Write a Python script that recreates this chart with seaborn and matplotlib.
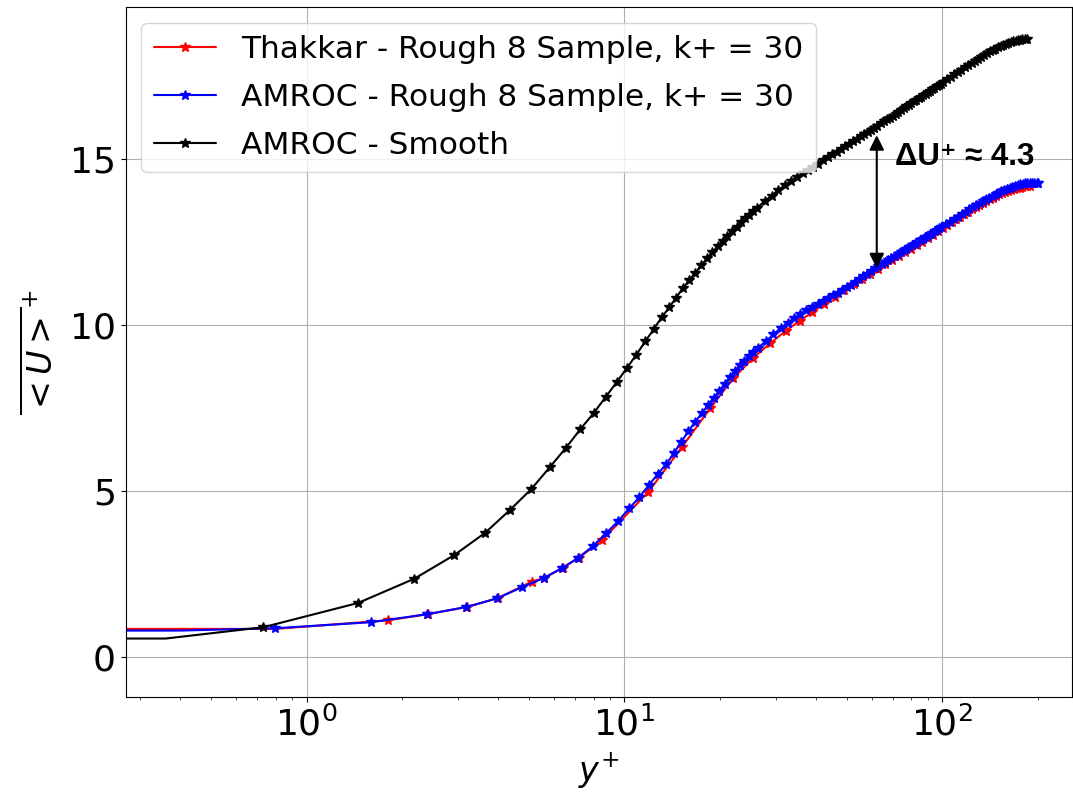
import numpy as np
import pandas as pd
import matplotlib
matplotlib.use("Agg")
import matplotlib.pyplot as plt
from matplotlib.lines import Line2D
import seaborn as sns

# ---------------- data ----------------
labels = ["Thakkar - Rough 8 Sample, k+ = 30",
          "AMROC - Rough 8 Sample, k+ = 30",
          "AMROC - Smooth"]

smooth_yplus = [0.0, 0.36, 0.73, 1.45, 2.18, 2.91, 3.64, 4.36, 5.09, 5.82, 6.54,
                7.27, 8.00, 8.72, 9.45, 10.18, 10.90, 11.63, 12.36, 13.09, 13.82,
                14.54, 15.27, 16.00, 16.72, 17.45, 18.18, 18.90, 19.63, 20.36,
                21.08, 21.81, 22.54, 23.26, 24.0, 24.7, 25.4, 26.2, 27.6, 29.1,
                30.5, 32.0, 33.4, 34.9, 36.4, 37.8, 39.3, 40.7, 42.2, 43.6, 45.1,
                46.5, 48.0, 49.4, 50.9, 52.3, 53.8, 55.3, 56.7, 58.2, 59.6, 61.1,
                62.5, 64.0, 65.4, 66.9, 68.3, 69.8, 71.3, 72.7, 74.2, 75.6, 77.1,
                78.5, 80.0, 81.4, 82.9, 84.3, 85.8, 87.2, 88.7, 90.1, 91.6, 93.0,
                94.5, 95.9, 97.4, 98.9, 100.3, 103.2, 106.2, 109.1, 112.0, 114.9,
                117.8, 120.7, 123.6, 126.5, 129.4, 132.3, 135.2, 138.1, 141.1,
                144.0, 146.9, 149.8, 152.7, 155.6, 158.5, 161.4, 164.3, 167.2,
                170.1, 173.0, 175.9, 178.8, 181.7, 184.4]
smooth_u = [0.55, 0.55, 0.89, 1.62, 2.35, 3.06, 3.73, 4.42, 5.05, 5.71, 6.29,
            6.86, 7.34, 7.82, 8.27, 8.70, 9.10, 9.50, 9.87, 10.22, 10.52,
            10.82, 11.10, 11.35, 11.57, 11.79, 12.00, 12.18, 12.36, 12.52,
            12.68, 12.82, 12.95, 13.08, 13.20, 13.31, 13.42, 13.53, 13.72, 13.89,
            14.06, 14.20, 14.32, 14.45, 14.56, 14.66, 14.76, 14.85, 14.95, 15.04, 15.13,
            15.21, 15.29, 15.37, 15.45, 15.52, 15.59, 15.67, 15.73, 15.80, 15.86, 15.94,
            16.00, 16.07, 16.13, 16.19, 16.24, 16.30, 16.36, 16.42, 16.47, 16.52, 16.58,
            16.63, 16.68, 16.73, 16.78, 16.82, 16.87, 16.92, 16.96, 17.01, 17.05, 17.09,
            17.14, 17.18, 17.22, 17.26, 17.30, 17.39, 17.47, 17.54, 17.61, 17.68,
            17.75, 17.82, 17.89, 17.95, 18.01, 18.07, 18.13, 18.18, 18.23,
            18.27, 18.31, 18.35, 18.39, 18.42, 18.45, 18.48, 18.51, 18.54,
            18.56, 18.58, 18.59, 18.60, 18.60, 18.60]

amroc_rough_yplus = [0.0, 0.40, 0.795, 1.59, 2.385, 3.18, 3.975, 4.77, 5.565, 6.36,
                     7.155, 7.95, 8.745, 9.54, 10.34, 11.13, 11.93, 12.72, 13.52,
                     14.31, 15.11, 15.90, 16.70, 17.49, 18.29, 19.08, 19.88, 20.67,
                     21.47, 22.26, 23.06, 23.85, 24.65, 25.44, 26.24, 27.83, 29.42,
                     31.01, 32.60, 34.19, 35.78, 37.37, 38.96, 40.55, 42.14, 43.73,
                     45.32, 46.91, 48.50, 50.09, 51.68, 53.27, 54.86, 56.45, 58.04,
                     59.63, 61.22, 62.81, 64.40, 65.99, 67.58, 69.17, 70.76, 72.35,
                     73.94, 75.53, 77.12, 78.71, 80.30, 81.89, 83.48, 85.07, 86.66,
                     88.25, 89.84, 91.43, 93.02, 94.61, 96.20, 97.79, 99.38, 102.56,
                     105.74, 108.92, 112.10, 115.28, 118.46, 121.64, 124.82, 128.00,
                     131.18, 134.36, 137.54, 140.72, 143.90, 147.08, 150.26, 153.44,
                     156.62, 159.80, 162.98, 166.16, 169.34, 172.52, 175.70, 178.88,
                     182.06, 185.24, 188.42, 191.60, 194.78, 197.96, 200.30]
amroc_rough_u = [0.78, 0.79, 0.86, 1.04, 1.28, 1.50, 1.76, 2.10, 2.37, 2.67,
                 2.98, 3.33, 3.72, 4.08, 4.47, 4.80, 5.17, 5.50, 5.80,
                 6.14, 6.48, 6.80, 7.08, 7.33, 7.58, 7.80, 8.00, 8.22,
                 8.43, 8.62, 8.78, 8.92, 9.05, 9.18, 9.30, 9.50, 9.71,
                 9.90, 10.06, 10.20, 10.33, 10.44, 10.54, 10.64, 10.73, 10.81,
                 10.89, 10.97, 11.05, 11.13, 11.21, 11.29, 11.37, 11.46, 11.54,
                 11.62, 11.70, 11.77, 11.83, 11.89, 11.95, 12.01, 12.07, 12.13,
                 12.18, 12.24, 12.29, 12.34, 12.39, 12.44, 12.49, 12.54, 12.59,
                 12.63, 12.68, 12.72, 12.77, 12.81, 12.85, 12.90, 12.94, 13.02,
                 13.10, 13.18, 13.26, 13.34, 13.41, 13.48, 13.55, 13.62,
                 13.68, 13.73, 13.78, 13.83, 13.88, 13.93, 13.98, 14.02,
                 14.06, 14.09, 14.12, 14.15, 14.17, 14.20, 14.23, 14.25,
                 14.26, 14.27, 14.27, 14.28, 14.28, 14.28, 14.28]

thakkar_yplus = [0.0, 0.8, 1.8, 2.4, 3.2, 4.0, 5.1, 5.6, 6.4, 7.2, 8.5, 11.9,
                 15.2, 18.6, 22.0, 25.4, 28.8,
                 32.2, 35.6, 39.0, 42.4, 45.8, 49.2, 52.6, 56.0, 59.4, 62.8,
                 66.2, 69.6, 73.0, 76.4, 79.8, 83.2, 86.6, 90.0, 93.4, 96.8,
                 100.2, 103.6, 107.0, 110.4, 113.8, 117.2, 120.6, 124.0, 127.4,
                 130.8, 134.2, 137.6, 141.0, 144.4, 147.8, 151.2, 154.6, 158.0,
                 161.4, 164.8, 168.2, 171.6, 175.0, 178.4, 181.8, 185.2, 188.6]
thakkar_u = [0.83, 0.84, 1.10, 1.28, 1.50, 1.77, 2.26, 2.38, 2.68, 2.99, 3.51, 4.97,
             6.33, 7.48, 8.39, 9.00, 9.45,
             9.82, 10.12, 10.38, 10.62, 10.85, 11.04, 11.22, 11.38, 11.53, 11.68,
             11.82, 11.95, 12.07, 12.18, 12.29, 12.40, 12.50, 12.61, 12.71, 12.81,
             12.91, 13.00, 13.09, 13.18, 13.26, 13.34, 13.41, 13.48, 13.55,
             13.61, 13.66, 13.72, 13.78, 13.83, 13.88, 13.93, 13.97, 14.01,
             14.04, 14.07, 14.09, 14.11, 14.13, 14.15, 14.17, 14.18, 14.19]

colors = ["red", "blue", "black"]
delta_text = "ΔU⁺ ≈ 4.3"

# ---------------- figure ----------------
sns.set_style("ticks")
plt.rcParams["font.family"] = ["DejaVu Sans"]
plt.rcParams["text.color"] = "black"
plt.rcParams["axes.labelcolor"] = "black"

fig = plt.figure(figsize=(10.73, 7.94), dpi=100)
ax = fig.add_axes([0.1171, 0.1222, 0.882, 0.869])
ax.set_xscale("log")

series = [
    (thakkar_yplus, thakkar_u, slice(2, None)),
    (amroc_rough_yplus, amroc_rough_u, slice(2, None)),
    (smooth_yplus, smooth_u, slice(2, None)),
]
for (xs, ys, mev), col in zip(series, colors):
    df = pd.DataFrame({"yplus": xs, "U": ys})
    sns.lineplot(data=df, x="yplus", y="U", ax=ax, color=col, lw=1.5,
                 marker="*", markersize=7, markeredgewidth=1.0,
                 markeredgecolor=col, markevery=mev, sort=False,
                 estimator=None, legend=False)

ax.set_xlim(0.2694, 256)
ax.set_ylim(-1.21, 19.57)
ax.set_yticks([0, 5, 10, 15])

ax.grid(True, which="major", color="#b0b0b0", lw=0.8)
for sp in ax.spines.values():
    sp.set_color("black")
    sp.set_linewidth(0.8)
ax.tick_params(axis="both", which="major", labelsize=26, colors="black",
               direction="out", length=3.5, width=0.8)
ax.tick_params(axis="x", which="minor", length=2, width=0.6)

ax.set_xlabel(r"$y^{+}$", fontsize=24, labelpad=6)
ax.set_ylabel(r"$\overline{<U>}^{+}$", fontsize=24, labelpad=8)

handles = [Line2D([], [], color=c, lw=1.5, marker="*", markersize=7,
                  markeredgecolor=c) for c in colors]
leg = ax.legend(handles, labels, loc="upper left", fontsize=22.5,
                framealpha=0.8, labelspacing=0.6)
for t in leg.get_texts():
    t.set_color("black")

# annotation: velocity shift
ax.annotate("", xy=(62.2, 15.71), xytext=(62.2, 11.70),
            arrowprops=dict(arrowstyle="<|-|>", color="black", lw=1.5,
                            mutation_scale=22, shrinkA=0, shrinkB=0))
ax.text(71.0, 15.05, delta_text, fontsize=22.5, fontweight="bold", color="black",
        family=["Liberation Sans", "DejaVu Sans"], va="center", ha="left")

fig.savefig("out.png", dpi=100)
